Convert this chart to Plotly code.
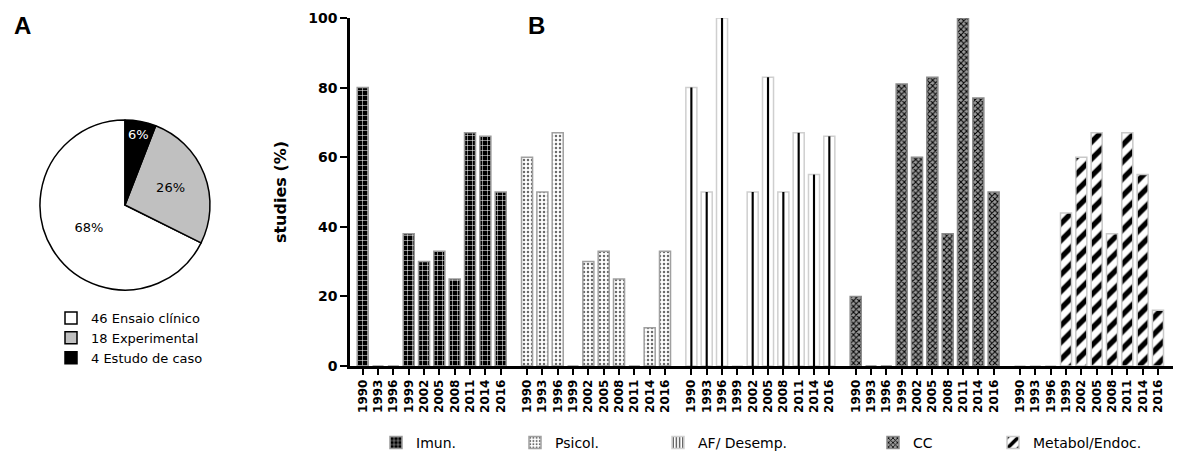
import plotly.graph_objects as go

# ---------------- data ----------------
years = ["1990", "1993", "1996", "1999", "2002", "2005", "2008", "2011", "2014", "2016"]
categories = ["Imun.", "Psicol.", "AF/ Desemp.", "CC", "Metabol/Endoc."]

imun = [80, 0, 0, 38, 30, 33, 25, 67, 66, 50]
psicol = [60, 50, 67, 0, 30, 33, 25, 0, 11, 33]
af_desemp = [80, 50, 100, 0, 50, 83, 50, 67, 55, 66]
cc = [20, 0, 0, 81, 60, 83, 38, 100, 77, 50]
metabol = [0, 0, 0, 44, 60, 67, 38, 67, 55, 16]
series = [imun, psicol, af_desemp, cc, metabol]

pie_labels = ["46 Ensaio clínico", "18 Experimental", "4 Estudo de caso"]
pie_values = [46, 18, 4]

y_ticks = [0, 20, 40, 60, 80, 100]

# ---------------- layout helpers ----------------
W, H = 1200, 459
GROUP_STEP = 10.72
BAR_W = 0.72
FONT = "DejaVu Sans, Liberation Sans, Arial, sans-serif"

def px(xpix):
    return xpix / W

def py(ypix_from_top):
    return (H - ypix_from_top) / H

styles = [
    dict(color="black", line="#9a9a9a",
         pattern=dict(shape="+", fgcolor="white", bgcolor="black", size=5, solidity=0.2,
                      fgopacity=1)),
    dict(color="white", line="#a0a0a0",
         pattern=dict(shape=".", fgcolor="#6a6a6a", bgcolor="white", size=4, solidity=0.3,
                      fgopacity=1)),
    dict(color="white", line="#cfcfcf", pattern=None),
    dict(color="white", line="#8a8a8a",
         pattern=dict(shape="x", fgcolor="black", bgcolor="#9a9a9a", size=4, solidity=0.45,
                      fgopacity=1)),
    dict(color="white", line="#c8c8c8",
         pattern=dict(shape="/", fgcolor="black", bgcolor="white", size=12, solidity=0.45,
                      fgopacity=1)),
]
legend_x = [376, 515, 658, 873, 993]

fig = go.Figure()

tickvals, ticktext = [], []
for g, (name, vals, st) in enumerate(zip(categories, series, styles)):
    xs = [g * GROUP_STEP + i for i in range(len(years))]
    tickvals += xs
    ticktext += years
    lg = "legend%d" % (g + 2)
    marker = dict(color=st["color"], line=dict(color=st["line"], width=1.5))
    if st["pattern"] is not None:
        marker["pattern"] = st["pattern"]
    fig.add_trace(go.Bar(
        x=xs, y=vals, width=BAR_W, name=name, marker=marker,
        showlegend=st["pattern"] is not None, legend=lg,
        xaxis="x", yaxis="y",
    ))
    if st["pattern"] is None:
        # centre line of the AF/Desemp. bars
        fig.add_trace(go.Bar(
            x=xs, y=vals, width=0.14, marker=dict(color="black", line=dict(width=0)),
            showlegend=False, xaxis="x", yaxis="y", hoverinfo="skip",
        ))
        # legend entry with the vertical-line pattern
        fig.add_trace(go.Bar(
            x=[None], y=[None], name=name, legend=lg, showlegend=True,
            marker=dict(color="white", line=dict(color=st["line"], width=1.5),
                        pattern=dict(shape="|", fgcolor="black", bgcolor="white",
                                     size=4, solidity=0.3, fgopacity=1)),
            xaxis="x", yaxis="y",
        ))

# ---------------- pie ----------------
# counterclockwise: first slice spans [rotation, rotation + its share] clockwise
pie_rotation = 360.0 * sum(pie_values[1:]) / sum(pie_values)
fig.add_trace(go.Pie(
    labels=pie_labels, values=pie_values, sort=False, direction="counterclockwise",
    rotation=pie_rotation,
    marker=dict(colors=["white", "#c0c0c0", "black"], line=dict(color="black", width=1.5)),
    texttemplate="%{percent:.0%}", textposition="inside",
    insidetextorientation="horizontal",
    textfont=dict(family=FONT, size=13, color=["black", "black", "white"]),
    domain=dict(x=[px(40), px(210)], y=[py(290), py(120)]),
    legend="legend", showlegend=True, hoverinfo="label+percent",
))

legends = {}
legends["legend"] = dict(x=px(51), y=py(338), xanchor="left", yanchor="middle",
                         font=dict(family=FONT, size=13, color="black"),
                         bgcolor="rgba(0,0,0,0)")
for g in range(5):
    legends["legend%d" % (g + 2)] = dict(
        x=px(legend_x[g]), y=py(443), xanchor="left", yanchor="middle",
        orientation="h", font=dict(family=FONT, size=14, color="black"),
        bgcolor="rgba(0,0,0,0)")

fig.update_layout(
    width=W, height=H,
    margin=dict(l=0, r=0, t=0, b=0),
    paper_bgcolor="white", plot_bgcolor="white",
    barmode="overlay",
    font=dict(family=FONT, color="black"),
    xaxis=dict(
        domain=[px(350), px(1173)],
        range=[-0.83, 4 * GROUP_STEP + 9 + 0.98],
        tickmode="array", tickvals=tickvals, ticktext=ticktext,
        tickangle=-90, tickfont=dict(family=FONT, size=12, weight="bold"),
        ticks="outside", ticklen=6, tickwidth=2, tickcolor="black",
        showline=True, linewidth=2.5, linecolor="black",
        showgrid=False, zeroline=False, automargin=False, fixedrange=True,
    ),
    yaxis=dict(
        domain=[py(366), py(18)],
        range=[0, 100],
        tickmode="array", tickvals=y_ticks,
        tickfont=dict(family=FONT, size=14, weight="bold"),
        ticks="outside", ticklen=7, tickwidth=2, tickcolor="black",
        showline=True, linewidth=2.5, linecolor="black",
        showgrid=False, zeroline=False, automargin=False, fixedrange=True,
        title=dict(text="studies (%)", font=dict(family=FONT, size=16, weight="bold"),
                   standoff=18),
    ),
    annotations=[
        dict(text="A", x=px(22), y=py(26), xref="paper", yref="paper",
             xanchor="center", yanchor="middle",
             showarrow=False, font=dict(family="Liberation Sans, Arial", size=24, weight="bold")),
        dict(text="B", x=px(536), y=py(26), xref="paper", yref="paper",
             xanchor="center", yanchor="middle",
             showarrow=False, font=dict(family="Liberation Sans, Arial", size=24, weight="bold")),
    ],
    **legends,
)

fig.write_html("out.html")
